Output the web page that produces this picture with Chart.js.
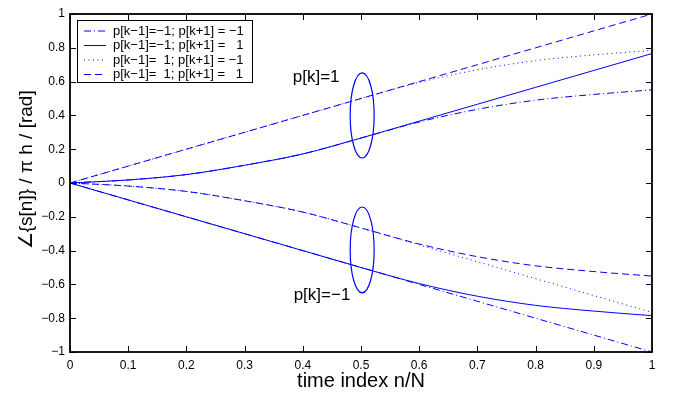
<!DOCTYPE html>
<html>
<head>
<meta charset="utf-8">
<script src="https://cdn.jsdelivr.net/npm/chart.js@4.4.1/dist/chart.umd.min.js"></script>
<style>
  html, body { margin: 0; padding: 0; background: #fff; }
</style>
</head>
<body>
<canvas id="phaseChart" width="678" height="395"></canvas>
<script>
// ==== Data ====
const timeIdx = [0, 0.1, 0.2, 0.3, 0.4, 0.5, 0.6, 0.7, 0.8, 0.9, 1];

// p[k] = 1 branch
const upDashDot = [0, 0.018, 0.05, 0.105, 0.172, 0.266, 0.361, 0.436, 0.49, 0.524, 0.551];
const upSolid   = [0, 0.018, 0.05, 0.105, 0.172, 0.266, 0.366, 0.466, 0.566, 0.666, 0.766];
const upDotted  = [0, 0.1, 0.2, 0.3, 0.4, 0.5, 0.595, 0.67, 0.724, 0.758, 0.785];
const upDashed  = [0, 0.1, 0.2, 0.3, 0.4, 0.5, 0.6, 0.7, 0.8, 0.9, 1.0];

// p[k] = -1 branch
const loDashDot = [0, -0.1, -0.2, -0.3, -0.4, -0.5, -0.6, -0.7, -0.8, -0.9, -1.0];
const loSolid   = [0, -0.1, -0.2, -0.3, -0.4, -0.5, -0.595, -0.67, -0.724, -0.758, -0.785];
const loDotted  = [0, -0.018, -0.05, -0.105, -0.172, -0.266, -0.366, -0.466, -0.566, -0.666, -0.766];
const loDashed  = [0, -0.018, -0.05, -0.105, -0.172, -0.266, -0.361, -0.436, -0.49, -0.524, -0.551];

const legendLabels = [
  "p[k\u22121]=\u22121; p[k+1] = \u22121",
  "p[k\u22121]=\u22121; p[k+1] =   1",
  "p[k\u22121]=  1; p[k+1] = \u22121",
  "p[k\u22121]=  1; p[k+1] =   1"
];

// ==== Annotations (ellipses + branch labels) ====
const ellipses = [
  { x: 0.502, y: 0.40, rx: 0.0206, ry: 0.252 },
  { x: 0.502, y: -0.396, rx: 0.0206, ry: 0.254 }
];
const branchLabels = [
  { text: "p[k]=1", x: 0.423, y: 0.627 },
  { text: "p[k]=\u22121", x: 0.433, y: -0.663 }
];

// ==== Styles ====
const BLUE = "#0000ff";
const FONT = "'Liberation Sans', Arial, Helvetica, sans-serif";
const dashDot = [7, 3, 1, 3];
const solid = [];
const dotted = [1, 3.5];
const dashed = [7, 4];

const toPts = arr => timeIdx.map((x, i) => ({ x, y: arr[i] }));
const mkSet = (label, arr, dash) => ({
  label,
  data: toPts(arr),
  borderColor: BLUE,
  borderWidth: 1,
  borderDash: dash,
  pointRadius: 0,
  fill: false,
  cubicInterpolationMode: "monotone"
});

const datasets = [
  mkSet(legendLabels[0], upDashDot, dashDot),
  mkSet(legendLabels[1], upSolid, solid),
  mkSet(legendLabels[2], upDotted, dotted),
  mkSet(legendLabels[3], upDashed, dashed),
  mkSet("lo1", loDashDot, dashDot),
  mkSet("lo2", loSolid, solid),
  mkSet("lo3", loDotted, dotted),
  mkSet("lo4", loDashed, dashed)
];

const fmt = v => {
  const r = Math.round(v * 10) / 10;
  return (r < 0 ? "\u2212" : "") + String(Math.abs(r));
};

// ==== Box, inner ticks, ellipses, labels, legend ====
const decorPlugin = {
  id: "decor",
  afterDatasetsDraw(chart) {
    const { ctx, chartArea: a, scales: { x, y } } = chart;
    ctx.save();

    // ellipses
    ctx.strokeStyle = BLUE;
    ctx.lineWidth = 1.2;
    ctx.setLineDash([]);
    ellipses.forEach(e => {
      const cx = x.getPixelForValue(e.x), cy = y.getPixelForValue(e.y);
      const rx = x.getPixelForValue(e.x + e.rx) - cx;
      const ry = cy - y.getPixelForValue(e.y + e.ry);
      ctx.beginPath();
      ctx.ellipse(cx, cy, rx, ry, 0, 0, Math.PI * 2);
      ctx.stroke();
    });

    // branch labels
    ctx.fillStyle = "#000";
    ctx.font = "17px " + FONT;
    ctx.textAlign = "center";
    ctx.textBaseline = "middle";
    branchLabels.forEach(l => {
      ctx.fillText(l.text, x.getPixelForValue(l.x), y.getPixelForValue(l.y));
    });

    // axes box
    ctx.strokeStyle = "#000";
    ctx.lineWidth = 1.8;
    ctx.strokeRect(a.left, a.top, a.right - a.left, a.bottom - a.top);

    // inward ticks on all four sides
    const TL = 6;
    ctx.lineWidth = 1;
    ctx.beginPath();
    x.ticks.forEach(t => {
      const px = Math.round(x.getPixelForValue(t.value)) + 0.5;
      ctx.moveTo(px, a.bottom); ctx.lineTo(px, a.bottom - TL);
      ctx.moveTo(px, a.top); ctx.lineTo(px, a.top + TL);
    });
    y.ticks.forEach(t => {
      const py = Math.round(y.getPixelForValue(t.value)) + 0.5;
      ctx.moveTo(a.left, py); ctx.lineTo(a.left + TL, py);
      ctx.moveTo(a.right, py); ctx.lineTo(a.right - TL, py);
    });
    ctx.stroke();

    // legend box
    const lx = a.left + 7, ly = a.top + 6, lw = 175, lh = 62;
    ctx.fillStyle = "#fff";
    ctx.fillRect(lx, ly, lw, lh);
    ctx.lineWidth = 1;
    ctx.strokeStyle = "#000";
    ctx.strokeRect(lx + 0.5, ly + 0.5, lw, lh);

    ctx.font = "13px " + FONT;
    ctx.textAlign = "left";
    ctx.textBaseline = "middle";
    for (let i = 0; i < 4; i++) {
      const ds = chart.data.datasets[i];
      const rowY = ly + 11 + i * 14.5;
      ctx.strokeStyle = ds.borderColor;
      ctx.setLineDash(ds.borderDash);
      ctx.beginPath();
      ctx.moveTo(lx + 7, rowY);
      ctx.lineTo(lx + 29, rowY);
      ctx.stroke();
      ctx.setLineDash([]);
      ctx.fillStyle = "#000";
      ctx.fillText(legendLabels[i], lx + 36, rowY);
    }
    ctx.restore();
  }
};

new Chart(document.getElementById("phaseChart"), {
  type: "line",
  data: { datasets },
  plugins: [decorPlugin],
  options: {
    responsive: false,
    animation: false,
    devicePixelRatio: 1,
    layout: { padding: { left: 0, top: 14, right: 26, bottom: 0 } },
    plugins: { legend: { display: false }, tooltip: { enabled: false } },
    scales: {
      x: {
        type: "linear",
        min: 0,
        max: 1,
        afterFit: s => { s.height = 43; },
        grid: { display: false, drawTicks: false },
        border: { display: false },
        ticks: { stepSize: 0.1, padding: 6, color: "#000", font: { family: FONT, size: 12 }, callback: fmt, maxRotation: 0 },
        title: { display: true, text: "time index n/N", color: "#000", font: { family: FONT, size: 20 }, padding: { top: 0, bottom: 2 } }
      },
      y: {
        type: "linear",
        min: -1,
        max: 1,
        afterFit: s => { s.width = 70; },
        grid: { display: false, drawTicks: false },
        border: { display: false },
        ticks: { stepSize: 0.2, padding: 5, color: "#000", font: { family: FONT, size: 12 }, callback: fmt },
        title: { display: true, text: "     \u2220{s[n]} / \u03c0 h / [rad]", color: "#000", font: { family: FONT, size: 19 }, padding: { top: 15, bottom: 0 } }
      }
    }
  }
});
</script>
</body>
</html>
